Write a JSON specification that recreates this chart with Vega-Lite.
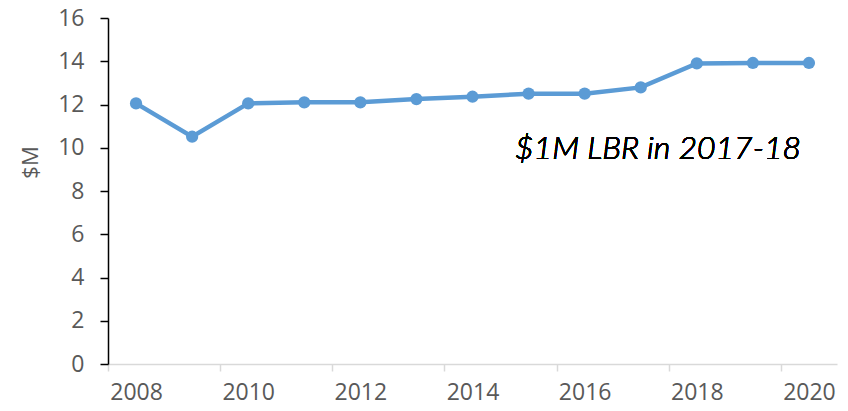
{
  "$schema": "https://vega.github.io/schema/vega-lite/v6.json",
  "width": 729,
  "height": 346,
  "autosize": {"type": "none"},
  "padding": {"left": 108, "top": 18, "right": 11, "bottom": 47},
  "background": "white",
  "config": {"view": {"stroke": null}, "font": "Open Sans"},
  "data": {
    "values": [
      {"year": 2008, "value": 12.05},
      {"year": 2009, "value": 10.51},
      {"year": 2010, "value": 12.05},
      {"year": 2011, "value": 12.1},
      {"year": 2012, "value": 12.1},
      {"year": 2013, "value": 12.25},
      {"year": 2014, "value": 12.36},
      {"year": 2015, "value": 12.5},
      {"year": 2016, "value": 12.5},
      {"year": 2017, "value": 12.79},
      {"year": 2018, "value": 13.9},
      {"year": 2019, "value": 13.92},
      {"year": 2020, "value": 13.92}
    ]
  },
  "layer": [
    {
      "mark": {"type": "line", "color": "#5B9BD5", "strokeWidth": 4.5, "point": {"filled": true, "size": 150, "color": "#5B9BD5"}},
      "encoding": {
        "x": {
          "field": "year",
          "type": "quantitative",
          "scale": {"domain": [2007.5, 2020.5], "nice": false, "zero": false},
          "axis": {
            "title": null,
            "values": [2007.5, 2008, 2009.5, 2010, 2011.5, 2012, 2013.5, 2014, 2015.5, 2016, 2017.5, 2018, 2019.5, 2020],
            "labelExpr": "datum.value % 1 === 0 ? format(datum.value, 'd') : ''",
            "labelOverlap": false,
            "labelFlush": false,
            "grid": false,
            "domainColor": "#D9D9D9",
            "domainWidth": 1.5,
            "tickColor": "#D9D9D9",
            "tickWidth": 1.5,
            "tickSize": 7,
            "tickOpacity": {"condition": {"test": "datum.value % 1 === 0", "value": 0}, "value": 1},
            "labelColor": "#595959",
            "labelFontSize": 23,
            "labelPadding": 10
          }
        },
        "y": {
          "field": "value",
          "type": "quantitative",
          "scale": {"domain": [0, 16], "nice": false},
          "axis": {
            "title": "$M",
            "values": [0, 2, 4, 6, 8, 10, 12, 14, 16],
            "grid": false,
            "domainColor": "#000000",
            "domainWidth": 1.5,
            "tickColor": "#000000",
            "tickWidth": 1.5,
            "tickSize": 8,
            "labelColor": "#595959",
            "labelFontSize": 23,
            "labelPadding": 16,
            "titleColor": "#595959",
            "titleFontSize": 22,
            "titleFontWeight": "normal",
            "titleX": -78,
            "titleY": 144,
            "titleAngle": 270,
            "titleAlign": "center",
            "titleBaseline": "middle"
          }
        }
      }
    },
    {
      "mark": {"type": "text", "text": "$1M LBR in 2017-18", "font": "Lato", "fontStyle": "italic", "fontWeight": 300, "fontSize": 32, "color": "#000000", "align": "center", "baseline": "alphabetic"},
      "encoding": {
        "x": {"datum": 2017.31, "type": "quantitative"},
        "y": {"datum": 9.48, "type": "quantitative"}
      }
    }
  ]
}
